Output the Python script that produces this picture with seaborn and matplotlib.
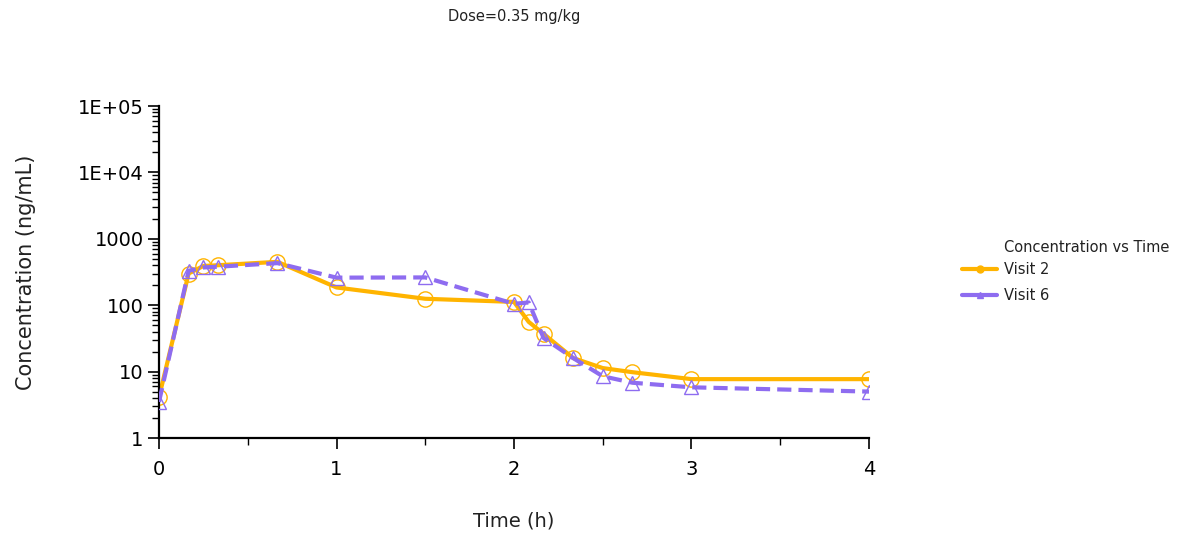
import numpy as np
import pandas as pd
import matplotlib
matplotlib.use("Agg")
import matplotlib.pyplot as plt
import seaborn as sns
from matplotlib.ticker import FixedLocator, FixedFormatter, LogLocator, NullFormatter, MultipleLocator
from matplotlib.lines import Line2D

time_h = [0, 0.167, 0.25, 0.333, 0.667, 1, 1.5, 2, 2.083, 2.167, 2.333, 2.5, 2.667, 3, 4]
visit2_conc = [4.1, 300, 390, 400, 450, 185, 125, 112, 56, 37, 16, 11.3, 9.8, 7.7, 7.7]
visit6_conc = [3.5, 330, 370, 380, 430, 260, 262, 105, 110, 32, 16, 8.5, 6.8, 5.8, 5.0]
series_names = ["Visit 2", "Visit 6"]
y_tick_vals = [1, 10, 100, 1000, 1e4, 1e5]
y_tick_labels = ["1", "10", "100", "1000", "1E+04", "1E+05"]
x_tick_vals = [0, 1, 2, 3, 4]

df = pd.concat([
    pd.DataFrame({"Time": time_h, "Conc": visit2_conc, "Visit": series_names[0]}),
    pd.DataFrame({"Time": time_h, "Conc": visit6_conc, "Visit": series_names[1]}),
])

sns.set_theme(style="white")
plt.rcParams['font.family'] = ['DejaVu Sans']

orange = "#FFB400"
purple = "#8E6CF0"

fig = plt.figure(figsize=(11.87, 5.38), dpi=100)
ax = fig.add_axes([159/1187, 100/538, 710/1187, 332/538])

d2 = df[df.Visit == series_names[0]]
d6 = df[df.Visit == series_names[1]]
sns.lineplot(data=d2, x="Time", y="Conc", ax=ax, color=orange, linewidth=3.0,
             marker="o", markersize=11, markerfacecolor="none", markeredgecolor=orange,
             markeredgewidth=1.0, legend=False, zorder=2)
sns.lineplot(data=d6, x="Time", y="Conc", ax=ax, color=purple, linewidth=3.0,
             linestyle=(0, (3.4, 1.7)), marker="^", markersize=10, markerfacecolor="none",
             markeredgecolor=purple, markeredgewidth=1.0, legend=False, zorder=3)

ax.set_yscale("log")
ax.set_ylim(1, 1e5)
ax.set_xlim(0, 4)
ax.yaxis.set_major_locator(FixedLocator(y_tick_vals))
ax.yaxis.set_major_formatter(FixedFormatter(y_tick_labels))
ax.yaxis.set_minor_locator(LogLocator(base=10, subs=np.arange(2, 10)))
ax.yaxis.set_minor_formatter(NullFormatter())
ax.xaxis.set_major_locator(FixedLocator(x_tick_vals))
ax.xaxis.set_minor_locator(MultipleLocator(0.5))

for s in ["top", "right"]:
    ax.spines[s].set_visible(False)
for s in ["left", "bottom"]:
    ax.spines[s].set_color("black")
    ax.spines[s].set_linewidth(1.6)

ax.tick_params(axis="both", which="major", direction="out", length=8, width=1.2,
               colors="black", labelsize=14, left=True, bottom=True)
ax.tick_params(axis="both", which="minor", direction="out", length=5, width=1.0,
               colors="black", left=True, bottom=True)
ax.tick_params(axis="x", which="major", pad=8)
ax.tick_params(axis="y", which="major", pad=3)
ax.grid(False)

ax.set_xlabel("Time (h)", fontsize=14, labelpad=23, color="#222222")
ax.set_ylabel("Concentration (ng/mL)", fontsize=15, labelpad=30, color="#222222")

fig.text(514/1187, 1 - 17/538, "Dose=0.35 mg/kg", ha="center", va="center", fontsize=10.5,
         color="#222222")

handles = [
    Line2D([0], [0], color=orange, linewidth=3, marker="o", markersize=5,
           markerfacecolor=orange, markeredgecolor=orange),
    Line2D([0], [0], color=purple, linewidth=3, marker="^", markersize=5,
           markerfacecolor=purple, markeredgecolor=purple),
]
fig.text(1004/1187, 1 - 247/538, "Concentration vs Time", ha="left", va="center",
         fontsize=10.5, color="#222222")
leg = fig.legend(handles, series_names,
                 loc="upper left", bbox_to_anchor=(962/1187, 1 - 262/538),
                 frameon=False, fontsize=10.5,
                 handlelength=2.4, handletextpad=0.5, labelspacing=0.75,
                 borderpad=0, borderaxespad=0)
for t in leg.get_texts():
    t.set_color("#222222")

fig.savefig("out.png", dpi=100, facecolor="white")
